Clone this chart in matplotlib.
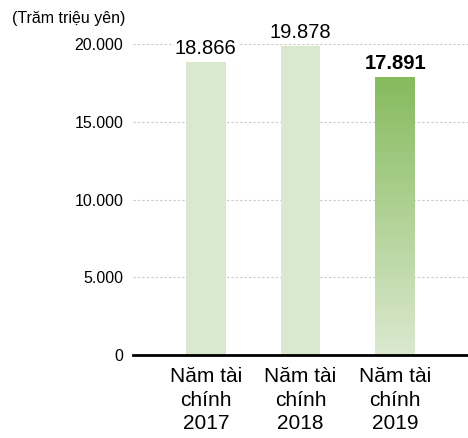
import numpy as np
import matplotlib.pyplot as plt
from matplotlib.colors import LinearSegmentedColormap

plt.rcParams['font.family'] = ['Liberation Sans', 'DejaVu Sans']

categories = ["Năm tài\nchính\n2017", "Năm tài\nchính\n2018", "Năm tài\nchính\n2019"]
values = [18866, 19878, 17891]
value_labels = ["18.866", "19.878", "17.891"]
yticks = [0, 5000, 10000, 15000, 20000]
ytick_labels = ["0", "5.000", "10.000", "15.000", "20.000"]

light_green = "#d9e9cf"

fig = plt.figure(figsize=(4.68, 4.38), dpi=100)
ax = fig.add_axes([133 / 468, 1 - 355 / 438, 335 / 468, (355 - 44) / 438])

x = np.arange(len(values))
bars = ax.bar(x, values, width=0.42, color=light_green, zorder=2)

# gradient for the last bar
grad_cmap = LinearSegmentedColormap.from_list("g", ["#dbe9cf", "#86bb5d"])
last = bars[-1]
bx, by = last.get_x(), last.get_y()
bw, bh = last.get_width(), last.get_height()
last.set_facecolor("none")
grad = np.linspace(0, 1, 256).reshape(-1, 1)
im = ax.imshow(grad, cmap=grad_cmap, origin="lower", aspect="auto",
               extent=[bx, bx + bw, by, by + bh], zorder=2)
im.set_clip_path(last)

for i, (v, lab) in enumerate(zip(values, value_labels)):
    ax.text(i, v + 250, lab, ha="center", va="bottom", fontsize=14.5,
            fontweight="bold" if i == 2 else "normal", zorder=3,
            bbox=dict(facecolor="white", edgecolor="none", pad=1))

ax.set_xlim(-0.77, 2.77)
ax.set_ylim(0, 20000)
ax.set_yticks(yticks)
ax.set_yticklabels(ytick_labels, fontsize=11.5)
ax.set_xticks(x)
ax.set_xticklabels(categories, fontsize=15, linespacing=1.27)
ax.tick_params(axis="both", length=0)
ax.tick_params(axis="y", pad=7)
ax.tick_params(axis="x", pad=9)

ax.yaxis.grid(True, linestyle=(0, (2, 2)), color="#c8c8c8", linewidth=0.8, zorder=0)
for s in ["top", "right", "left"]:
    ax.spines[s].set_visible(False)
ax.spines["bottom"].set_linewidth(2)
ax.spines["bottom"].set_color("black")
ax.spines["bottom"].set_zorder(4)

fig.text(12 / 468, 1 - 18 / 438, "(Trăm triệu yên)", fontsize=11.5, va="center")

fig.savefig("out.png", dpi=100)
